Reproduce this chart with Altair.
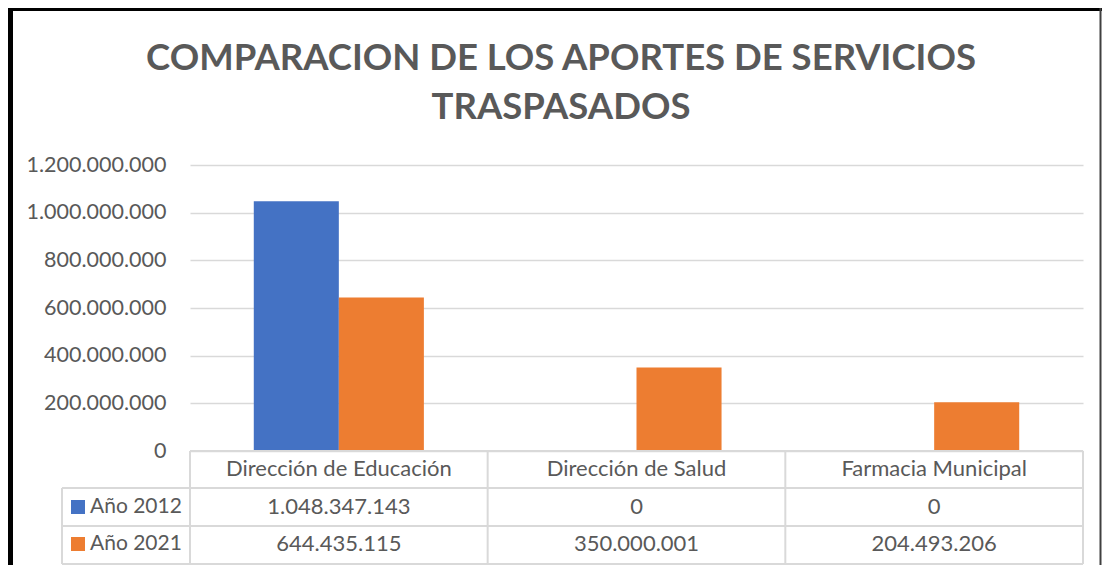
import altair as alt
import pandas as pd

categories = ["Dirección de Educación", "Dirección de Salud", "Farmacia Municipal"]
series = ["Año 2012", "Año 2021"]
values_2012 = [1048347143, 0, 0]
values_2021 = [644435115, 350000001, 204493206]
y_ticks = [0, 200000000, 400000000, 600000000, 800000000, 1000000000, 1200000000]
colors = ["#4472C4", "#ED7D31"]
title_lines = ["COMPARACION DE LOS APORTES DE SERVICIOS", "TRASPASADOS"]

W, H = 893, 286
FONT = "Lato"
TXT = "#595959"
GRID = "#d9d9d9"

def fmt(v):
    return f"{v:,}".replace(",", ".")

rows = []
for c, a, b in zip(categories, values_2012, values_2021):
    rows.append({"cat": c, "serie": series[0], "valor": a, "label": fmt(a)})
    rows.append({"cat": c, "serie": series[1], "valor": b, "label": fmt(b)})
df = pd.DataFrame(rows)
one = pd.DataFrame({"k": [0]})
leg = pd.DataFrame({"serie": series})

xscale = alt.Scale(domain=categories, paddingInner=0, paddingOuter=0)
xenc = alt.X("cat:N", scale=xscale, axis=None, sort=categories)
color = alt.Color("serie:N", scale=alt.Scale(domain=series, range=colors), legend=None)

bars = alt.Chart(df).mark_bar().encode(
    x=xenc,
    xOffset=alt.XOffset("serie:N", scale=alt.Scale(domain=series, paddingInner=0, paddingOuter=0.75)),
    y=alt.Y("valor:Q", scale=alt.Scale(domain=[0, 1200000000], nice=False),
            axis=alt.Axis(values=y_ticks, format=",d", title=None, domain=False, ticks=False,
                          labelPadding=24, labelFontSize=21.5, labelFont=FONT, labelColor=TXT,
                          gridColor=GRID, gridWidth=1.5)),
    color=color,
)

layers = [bars]

# title
for line, yy in zip(title_lines, [-95, -46]):
    layers.append(alt.Chart(one).mark_text(
        font=FONT, fontSize=36.5, fontWeight="bold", color=TXT, baseline="alphabetic", align="center",
        text=line).encode(x=alt.value(371), y=alt.value(yy)))

# table lines
line_style = dict(color=GRID, strokeWidth=2)
layers.append(alt.Chart(one).mark_rule(**line_style).encode(
    x=alt.value(0), x2=alt.value(W), y=alt.value(H)))
for yy in [323, 361, 399]:
    layers.append(alt.Chart(one).mark_rule(**line_style).encode(
        x=alt.value(-128), x2=alt.value(W), y=alt.value(yy)))
layers.append(alt.Chart(one).mark_rule(**line_style).encode(
    x=alt.value(-128), y=alt.value(323), y2=alt.value(399)))
layers.append(alt.Chart(one).mark_rule(**line_style).encode(
    x=alt.value(W), y=alt.value(H), y2=alt.value(399)))
layers.append(alt.Chart(pd.DataFrame({"cat": categories})).mark_rule(**line_style).encode(
    x=alt.X("cat:N", scale=xscale, axis=None, sort=categories, bandPosition=0),
    y=alt.value(H), y2=alt.value(399)))

# header text
layers.append(alt.Chart(pd.DataFrame({"cat": categories})).mark_text(
    font=FONT, fontSize=22, color=TXT, baseline="middle").encode(
    x=alt.X("cat:N", scale=xscale, axis=None, sort=categories), y=alt.value(304), text="cat:N"))

# rows
for s, yy in zip(series, [342, 379]):
    layers.append(alt.Chart(df).transform_filter(alt.datum.serie == s).mark_text(
        font=FONT, fontSize=22, color=TXT, baseline="middle").encode(
        x=alt.X("cat:N", scale=xscale, axis=None, sort=categories), y=alt.value(yy), text="label:N"))
    layers.append(alt.Chart(leg).transform_filter(alt.datum.serie == s).mark_square(
        size=196, opacity=1).encode(
        x=alt.value(-112), y=alt.value(yy), color=color))
    layers.append(alt.Chart(leg).transform_filter(alt.datum.serie == s).mark_text(
        font=FONT, fontSize=21, color=TXT, baseline="middle", align="left").encode(
        x=alt.value(-100), y=alt.value(yy), text="serie:N"))

# outer frame
layers.append(alt.Chart(one).mark_rule(color="#000000", strokeWidth=5).encode(
    x=alt.value(-179.5), y=alt.value(-157), y2=alt.value(400)))
layers.append(alt.Chart(one).mark_rule(color="#000000", strokeWidth=3).encode(
    x=alt.value(-182), x2=alt.value(912), y=alt.value(-155.5)))
layers.append(alt.Chart(one).mark_rule(color="#404040", strokeWidth=2).encode(
    x=alt.value(910.5), y=alt.value(-157), y2=alt.value(400)))

chart = alt.layer(*layers).properties(
    width=W, height=H,
    autosize=alt.AutoSizeParams(type="none"),
    padding={"left": 182, "top": 157, "right": 19, "bottom": 114},
).configure(
    locale={"number": {"decimal": ",", "thousands": ".", "grouping": [3], "currency": ["", ""]}}
).configure_view(stroke=None)

chart.save("out.html", embed_options={"renderer": "svg", "actions": False})
